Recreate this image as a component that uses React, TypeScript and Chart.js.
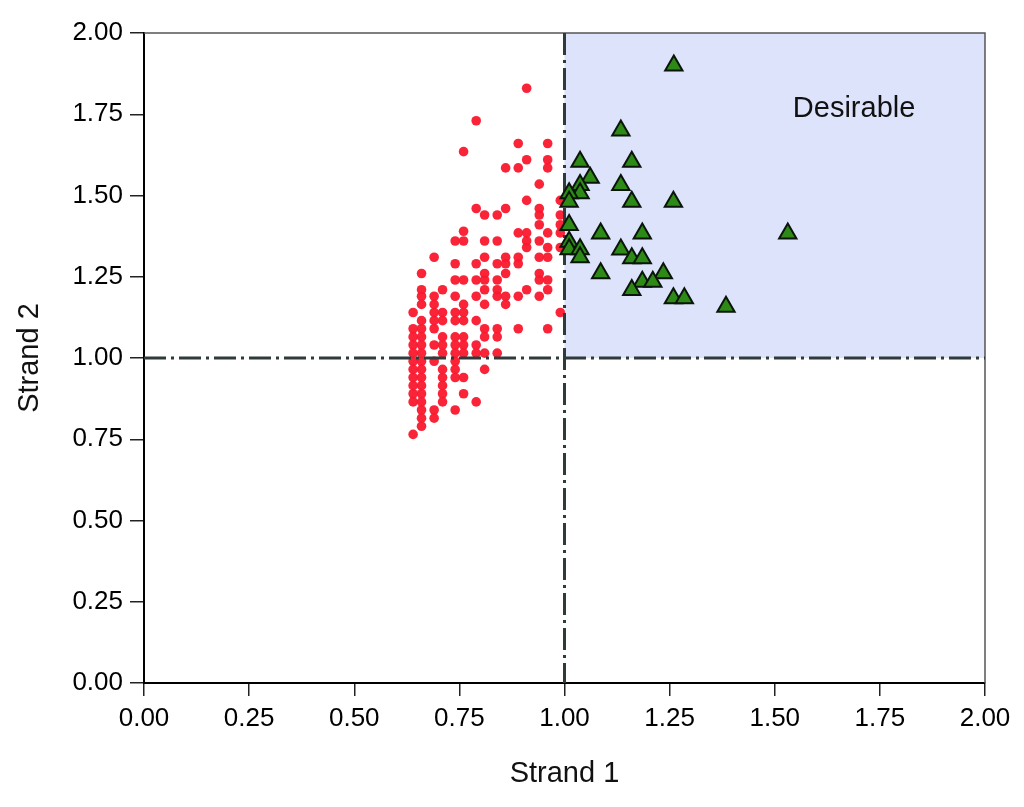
import React, { useEffect, useRef } from "react";
import { Chart, registerables } from "chart.js";

Chart.register(...registerables);

// ---- data ----
const xTicks = [0, 0.25, 0.5, 0.75, 1, 1.25, 1.5, 1.75, 2];
const yTicks = [0, 0.25, 0.5, 0.75, 1, 1.25, 1.5, 1.75, 2];

// red points: x columns and the y values found in each column
const redColX = [0.64, 0.66, 0.69, 0.71, 0.74, 0.76, 0.79, 0.81, 0.84, 0.86, 0.89, 0.91, 0.94, 0.96, 0.99];
const redColY = [
  [1.14, 1.09, 1.065, 1.04, 1.015, 0.99, 0.965, 0.94, 0.915, 0.89, 0.865, 0.765],
  [1.26, 1.21, 1.19, 1.165, 1.115, 1.09, 1.065, 1.04, 1.015, 0.99, 0.965, 0.94, 0.915, 0.89, 0.865, 0.84, 0.815, 0.79],
  [1.31, 1.19, 1.165, 1.14, 1.115, 1.09, 1.04, 0.99, 0.84, 0.815],
  [1.21, 1.14, 1.115, 1.065, 1.04, 1.015, 0.965, 0.94, 0.915, 0.89, 0.865],
  [1.36, 1.29, 1.24, 1.19, 1.14, 1.115, 1.065, 1.04, 1.015, 0.99, 0.965, 0.94, 0.84],
  [1.635, 1.39, 1.36, 1.24, 1.165, 1.14, 1.115, 1.065, 1.04, 1.015, 0.94, 0.89],
  [1.73, 1.46, 1.29, 1.24, 1.19, 1.115, 1.04, 1.015, 0.865],
  [1.44, 1.36, 1.31, 1.26, 1.24, 1.21, 1.165, 1.09, 1.065, 1.015, 0.965],
  [1.44, 1.36, 1.29, 1.24, 1.21, 1.19, 1.09, 1.065, 1.015],
  [1.585, 1.46, 1.31, 1.29, 1.26, 1.19, 1.165],
  [1.66, 1.585, 1.385, 1.31, 1.29, 1.19, 1.09],
  [1.83, 1.61, 1.485, 1.385, 1.36, 1.34, 1.21],
  [1.535, 1.46, 1.44, 1.41, 1.36, 1.31, 1.26, 1.24, 1.19],
  [1.66, 1.61, 1.585, 1.385, 1.34, 1.31, 1.24, 1.21, 1.09],
  [1.485, 1.44, 1.41, 1.385, 1.34, 1.14],
];

// green triangles
const greenX = [1.26, 1.134, 1.037, 1.16, 1.061, 1.134, 1.037, 1.037, 1.011, 1.011, 1.16, 1.259, 1.011, 1.086, 1.185, 1.531, 1.011, 1.011, 1.037, 1.037, 1.134, 1.16, 1.185, 1.086, 1.235, 1.185, 1.21, 1.16, 1.259, 1.285, 1.384];
const greenY = [1.9, 1.7, 1.604, 1.604, 1.555, 1.532, 1.532, 1.507, 1.507, 1.481, 1.481, 1.481, 1.409, 1.383, 1.383, 1.383, 1.358, 1.335, 1.335, 1.31, 1.334, 1.307, 1.307, 1.261, 1.261, 1.235, 1.235, 1.209, 1.184, 1.184, 1.158];

const thresholdX = 1;
const thresholdY = 1;
const regionLabel = "Desirable";
const regionLabelPos = [1.543, 1.742];
const xTitle = "Strand 1";
const yTitle = "Strand 2";

const FONT = '"Liberation Sans", Arial, Helvetica, sans-serif';

export default function App() {
  const ref = useRef<HTMLCanvasElement | null>(null);

  useEffect(() => {
    if (!ref.current) return;
    const redData: { x: number; y: number }[] = [];
    redColX.forEach((x, i) => redColY[i].forEach((y) => redData.push({ x, y })));
    const greenData = greenX.map((x, i) => ({ x, y: greenY[i] }));

    const quadPlugin = {
      id: "quad",
      beforeDatasetsDraw(chart: any) {
        const { ctx, chartArea, scales } = chart;
        const xs = scales.x, ys = scales.y;
        ctx.save();
        ctx.fillStyle = "rgb(221, 227, 250)";
        const x0 = xs.getPixelForValue(thresholdX);
        const y0 = ys.getPixelForValue(thresholdY);
        ctx.fillRect(x0, chartArea.top, chartArea.right - x0, y0 - chartArea.top);
        ctx.strokeStyle = "#555";
        ctx.lineWidth = 1.5;
        ctx.beginPath();
        ctx.moveTo(chartArea.left, chartArea.top);
        ctx.lineTo(chartArea.right, chartArea.top);
        ctx.lineTo(chartArea.right, chartArea.bottom);
        ctx.stroke();
        ctx.restore();
      },
      afterDatasetDraw(chart: any, args: any) {
        if (args.index !== 0) return;
        const { ctx, chartArea, scales } = chart;
        const x0 = scales.x.getPixelForValue(thresholdX);
        const y0 = scales.y.getPixelForValue(thresholdY);
        ctx.save();
        ctx.strokeStyle = "#2f3b3b";
        ctx.lineWidth = 3;
        ctx.setLineDash([22, 5, 3, 5]);
        ctx.beginPath();
        ctx.moveTo(chartArea.left, y0);
        ctx.lineTo(chartArea.right, y0);
        ctx.stroke();
        ctx.beginPath();
        ctx.moveTo(x0, chartArea.top);
        ctx.lineTo(x0, chartArea.bottom);
        ctx.stroke();
        ctx.restore();
      },
      afterDraw(chart: any) {
        const { ctx, scales } = chart;
        ctx.save();
        ctx.fillStyle = "#111";
        ctx.font = `29px ${FONT}`;
        ctx.textAlign = "left";
        ctx.textBaseline = "alphabetic";
        ctx.fillText(regionLabel, scales.x.getPixelForValue(regionLabelPos[0]), scales.y.getPixelForValue(regionLabelPos[1]));
        ctx.restore();
      },
    };

    const chart = new Chart(ref.current, {
      type: "scatter",
      data: {
        datasets: [
          {
            label: "below",
            data: redData,
            order: 2,
            pointStyle: "circle",
            pointRadius: 4.8,
            pointHoverRadius: 4.8,
            backgroundColor: "rgba(250, 24, 46, 0.95)",
            borderColor: "rgba(250, 24, 46, 0.95)",
            borderWidth: 0,
          },
          {
            label: "desirable",
            data: greenData,
            order: 1,
            pointStyle: "triangle",
            pointRadius: 10,
            pointHoverRadius: 10,
            backgroundColor: "rgb(46, 138, 22)",
            borderColor: "#0b150b",
            borderWidth: 2,
          },
        ],
      },
      options: {
        responsive: false,
        animation: false,
        layout: { padding: { top: 33, right: 39, left: 0, bottom: 0 } },
        plugins: { legend: { display: false }, tooltip: { enabled: false } },
        scales: {
          x: {
            type: "linear",
            min: 0,
            max: 2,
            afterFit: (s: any) => { s.height = 124; },
            afterBuildTicks: (s: any) => { s.ticks = xTicks.map((v) => ({ value: v })); },
            border: { display: true, color: "#000", width: 2 },
            grid: { drawOnChartArea: false, drawTicks: true, tickLength: 13, color: "#222", lineWidth: 1.5 },
            ticks: {
              color: "#000",
              font: { family: FONT, size: 26 },
              padding: 7,
              maxRotation: 0,
              callback: (v: any) => Number(v).toFixed(2),
            },
            title: {
              display: true,
              text: xTitle,
              color: "#111",
              font: { family: FONT, size: 29 },
              padding: { top: 0, bottom: 16 },
            },
          },
          y: {
            type: "linear",
            min: 0,
            max: 2,
            afterFit: (s: any) => { s.width = 144; },
            afterBuildTicks: (s: any) => { s.ticks = yTicks.map((v) => ({ value: v })); },
            border: { display: true, color: "#000", width: 2 },
            grid: { drawOnChartArea: false, drawTicks: true, tickLength: 14, color: "#222", lineWidth: 1.5 },
            ticks: {
              color: "#000",
              font: { family: FONT, size: 26 },
              padding: 7,
              callback: (v: any) => Number(v).toFixed(2),
            },
            title: {
              display: true,
              text: yTitle,
              color: "#111",
              font: { family: FONT, size: 29 },
              padding: { top: 13, bottom: 0 },
            },
          },
        },
      },
      plugins: [quadPlugin],
    });
    return () => chart.destroy();
  }, []);

  return (
    <canvas
      ref={ref}
      width={1024}
      height={807}
      style={{ position: "fixed", left: 0, top: 0, width: 1024, height: 807, background: "#fff" }}
    />
  );
}
